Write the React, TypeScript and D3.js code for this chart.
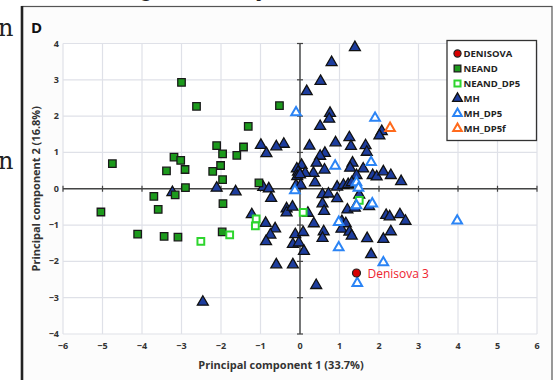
import React from 'react';
import * as d3 from 'd3';

// values (PC1, PC2)
const denisova: [number, number][] = [[1.43, -2.32]];

const neand: [number, number][] = [
  [-3.0, 2.93], [-2.62, 2.27], [-1.31, 1.72], [-0.52, 2.29], [-2.11, 1.19], [-1.43, 1.15],
  [-1.96, 0.96], [-1.6, 0.92], [-4.75, 0.69], [-3.19, 0.87], [-3.02, 0.78], [-3.38, 0.49],
  [-2.91, 0.53], [-2.01, 0.64], [-2.21, 0.48], [-1.96, 0.25], [-2.9, 0.03], [-1.04, 0.16],
  [-5.04, -0.64], [-3.7, -0.21], [-3.16, -0.17], [-3.59, -0.57], [-1.95, -0.41], [-4.11, -1.25],
  [-3.44, -1.31], [-3.09, -1.33], [-1.97, -1.19],
];

const neandDP5: [number, number][] = [
  [-2.51, -1.45], [-1.78, -1.27], [-1.11, -0.83], [-1.13, -1.02], [1.5, -0.32], [0.08, -0.65],
];

const mh: [number, number][] = [
  [1.39, 3.89], [0.8, 3.48], [0.52, 2.96], [0.17, 2.68], [0.76, 2.08], [0.74, 1.92], [0.51, 1.72],
  [2.07, 1.58], [2.01, 1.46], [1.25, 1.41], [1.29, 1.17], [0.9, 1.27], [0.24, 1.18], [-0.41, 1.23],
  [1.66, 1.19], [1.69, 1.01], [0.63, 0.98], [0.51, 0.9], [0.42, 0.71], [0.04, 0.65], [1.33, 0.71],
  [1.27, 0.57], [1.6, 0.55], [0.62, 0.52], [0.34, 0.43], [0.13, 0.43], [-0.08, 0.55], [-0.05, 0.46],
  [-0.07, 0.34], [1.43, 0.37], [1.84, 0.37], [1.94, 0.33], [2.11, 0.47], [2.3, 0.37], [2.56, 0.2],
  [0.38, 0.17], [0.94, 0.05], [1.1, 0.1], [1.22, 0.12], [1.31, 0.17], [-0.1, 0.09], [0.02, 0.1],
  [-0.99, 1.2], [-0.6, 1.16], [-0.85, 0.97], [-3.23, -0.1], [-2.11, 0.02], [-1.63, -0.08],
  [-0.93, 0.04], [-0.79, 0.0], [-0.73, -0.26], [0.0, 0.39],
  [-0.34, -0.55], [-1.22, -0.71], [-0.87, -0.95], [-0.63, -1.1], [-0.75, -1.27], [-0.86, -1.45],
  [-0.34, -0.66], [-0.19, -0.5], [-0.12, -1.26], [0.08, -1.2], [-0.18, -1.53], [-0.03, -1.49],
  [0.1, -1.72], [-0.6, -2.09], [-0.18, -2.09], [-2.46, -3.12], [0.41, -2.66],
  [0.57, -0.41], [0.61, -0.62], [0.94, -0.27], [0.57, -0.16], [0.72, -0.14], [1.2, -0.58],
  [1.39, -0.53], [1.75, -0.49], [2.18, -0.73], [2.27, -0.77], [2.53, -0.71], [2.67, -0.89],
  [0.2, -0.67], [0.35, -0.96], [0.6, -1.18], [0.57, -1.36], [1.06, -0.9], [1.16, -0.96],
  [1.05, -1.11], [1.25, -1.19], [1.31, -1.3], [1.7, -1.37], [2.11, -1.39], [2.3, -1.18],
  [1.8, -1.81], [1.5, -0.17],
];

const mhDP5: [number, number][] = [
  [1.45, -2.6], [2.11, -2.03], [0.98, -1.62], [3.98, -0.88], [0.98, -0.92], [1.83, -0.41],
  [1.43, -0.46], [0.89, 0.63], [1.8, 0.73], [1.43, 0.17], [1.48, 0.02], [-0.1, 2.1],
  [1.9, 1.95], [-0.13, -0.05],
];

const mhDP5f: [number, number][] = [[2.28, 1.67]];

const xTicks = [-6, -5, -4, -3, -2, -1, 0, 1, 2, 3, 4, 5, 6];
const yTicks = [-4, -3, -2, -1, 0, 1, 2, 3, 4];

const legendNames = ['DENISOVA', 'NEAND', 'NEAND_DP5', 'MH', 'MH_DP5', 'MH_DP5f'];

const font = '"Open Sans", "Liberation Sans", sans-serif';

type Style = { shape: d3.SymbolType; size: number; fill: string; stroke: string; sw: number };

const styles: Record<string, Style> = {
  DENISOVA: { shape: d3.symbolCircle, size: 50, fill: '#d80000', stroke: '#222', sw: 1.2 },
  NEAND: { shape: d3.symbolSquare, size: 56, fill: '#1c9a1c', stroke: '#1a1a1a', sw: 1.3 },
  NEAND_DP5: { shape: d3.symbolSquare, size: 46, fill: '#fff', stroke: '#2ed52e', sw: 2 },
  MH: { shape: d3.symbolTriangle, size: 52, fill: '#1d3d9e', stroke: '#111', sw: 1.3 },
  MH_DP5: { shape: d3.symbolTriangle, size: 40, fill: '#fff', stroke: '#2b84f5', sw: 2 },
  MH_DP5f: { shape: d3.symbolTriangle, size: 40, fill: '#fff', stroke: '#ff6a1c', sw: 2 },
};

export default function App() {
  const x = d3.scaleLinear().domain([-6, 6]).range([63, 537]);
  const y = d3.scaleLinear().domain([-4, 4]).range([334, 43.5]);

  const sym = (name: string) => d3.symbol(styles[name].shape, styles[name].size)() || '';

  const series: [string, [number, number][]][] = [
    ['MH', mh],
    ['NEAND', neand],
    ['NEAND_DP5', neandDP5],
    ['MH_DP5', mhDP5],
    ['MH_DP5f', mhDP5f],
    ['DENISOVA', denisova],
  ];

  return (
    <svg width={560} height={380} style={{ position: 'absolute', left: 0, top: 0 }}>
      <rect width={560} height={380} fill="#fff" />
      {/* cropped bits of surrounding page text */}
      <text x={-2} y={36} fontFamily="DejaVu Serif, serif" fontSize={24} fill="#222">n</text>
      <text x={-2} y={169} fontFamily="DejaVu Serif, serif" fontSize={24} fill="#222">n</text>
      <text x={140} y={-4} fontFamily="DejaVu Serif, serif" fontSize={22} fill="#222">g</text>
      <text x={256} y={-4} fontFamily="DejaVu Serif, serif" fontSize={22} fill="#222">y</text>

      {/* figure panel frame */}
      <rect x={22} y={6.5} width={530} height={380} fill="#fcfcfc" stroke="#555" strokeWidth={1.2} />
      <line x1={22} x2={22} y1={6} y2={380} stroke="#222" strokeWidth={2.6} />
      <text x={31} y={33} fontFamily={font} fontWeight={700} fontSize={15} fill="#111">D</text>

      {/* plot area */}
      <rect x={x(-6)} y={y(4)} width={x(6) - x(-6)} height={y(-4) - y(4)} fill="#fff" />
      {xTicks.map((t) => (
        <line key={'gx' + t} x1={x(t)} x2={x(t)} y1={y(4)} y2={y(-4)} stroke="#dfe1e8" strokeWidth={1.2} />
      ))}
      {yTicks.map((t) => (
        <line key={'gy' + t} x1={x(-6)} x2={x(6)} y1={y(t)} y2={y(t)} stroke="#dfe1e8" strokeWidth={1.2} />
      ))}

      {/* axes through origin */}
      <line x1={x(-6)} x2={x(6)} y1={y(0)} y2={y(0)} stroke="#444" strokeWidth={1.4} />
      <line x1={x(0)} x2={x(0)} y1={y(4)} y2={y(-4)} stroke="#444" strokeWidth={1.4} />
      {xTicks.map((t) => (
        <line key={'tx' + t} x1={x(t)} x2={x(t)} y1={y(0) - 3} y2={y(0) + 3} stroke="#444" strokeWidth={1.2} />
      ))}
      {yTicks.map((t) => (
        <line key={'ty' + t} x1={x(0) - 3} x2={x(0) + 3} y1={y(t)} y2={y(t)} stroke="#444" strokeWidth={1.2} />
      ))}

      {/* tick labels */}
      {xTicks.map((t) => (
        <text key={'lx' + t} x={x(t)} y={349} textAnchor="middle" fontFamily={font} fontWeight={700} fontSize={9} fill="#333">
          {d3.format('')(t).replace('-', '\u2212')}
        </text>
      ))}
      {yTicks.map((t) => (
        <text key={'ly' + t} x={59} y={y(t) + 3} textAnchor="end" fontFamily={font} fontWeight={700} fontSize={9} fill="#333">
          {d3.format('')(t).replace('-', '\u2212')}
        </text>
      ))}

      {/* axis titles */}
      <text x={281} y={369} textAnchor="middle" fontFamily={font} fontWeight={700} fontSize={11} fill="#333">
        Principal component 1 (33.7%)
      </text>
      <text transform={`translate(40,${y(0)}) rotate(-90)`} textAnchor="middle" fontFamily={font} fontWeight={700} fontSize={11} fill="#333">
        Principal component 2 (16.8%)
      </text>

      {/* points */}
      {series.map(([name, pts]) => (
        <g key={name}>
          {pts.map((p, i) => (
            <path
              key={i}
              d={sym(name)}
              transform={`translate(${x(p[0])},${y(p[1])})`}
              fill={styles[name].fill}
              stroke={styles[name].stroke}
              strokeWidth={styles[name].sw}
            />
          ))}
        </g>
      ))}
      <text x={x(1.43) + 11} y={y(-2.32) + 5} fontFamily={font} fontSize={12} fill="#ee2430">
        Denisova 3
      </text>

      {/* legend */}
      <rect x={447} y={40.5} width={89.5} height={100} fill="#fff" stroke="#333" strokeWidth={1.3} />
      {legendNames.map((name, i) => (
        <g key={name} transform={`translate(457.5,${53.5 + i * 15})`}>
          <path
            d={d3.symbol(styles[name].shape, styles[name].size * 0.8)() || ''}
            fill={styles[name].fill}
            stroke={styles[name].stroke}
            strokeWidth={styles[name].sw}
          />
          <text x={6} y={3.5} fontFamily={font} fontWeight={700} fontSize={9.5} fill="#222">
            {name}
          </text>
        </g>
      ))}
    </svg>
  );
}
